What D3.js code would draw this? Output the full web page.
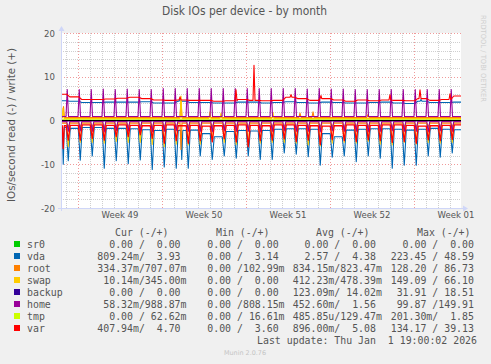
<!DOCTYPE html>
<html><head><meta charset="utf-8">
<script src="https://cdn.jsdelivr.net/npm/d3@7"></script>
<style>
html,body{margin:0;padding:0;background:#F0F0F0;}
svg{display:block;}
text{font-family:"DejaVu Sans",sans-serif;}
.mono{font-family:"DejaVu Sans Mono",monospace;font-size:9.9px;fill:#555;white-space:pre;}
</style></head><body>
<svg id="c" width="491" height="364"></svg>
<script>
// ---------------- DATA ----------------
const yTicks = [-20, -10, 0, 10, 20];
// 34 quiet-level values (one per gap between daily spikes), 33 daily spike values
const varWriteBase  = [6.0,5.4,4.8,4.8,4.9,5.1,5.3,5.0,4.7,4.6,4.7,4.6,4.6,4.4,4.5,4.8,4.6,4.5,4.6,5.3,5.0,4.6,5.0,4.7,4.4,4.7,4.5,4.7,4.6,4.5,5.0,4.6,4.8,5.6];
const varWriteEvents = [["2025-12-09T12:00Z",5.4],["2025-12-14T04:00Z",7.0],["2025-12-15T16:00Z",12.6],["2025-12-18T18:00Z",5.9],["2025-12-21T06:00Z",5.7],["2025-12-27T00:00Z",5.9],["2025-12-29T12:00Z",7.0],["2026-01-01T00:00Z",6.1]];
const varReadBase   = [-1.2,-1.1,-1.0,-1.0,-1.1,-1.0,-1.1,-1.2,-1.1,-1.0,-1.2,-1.1,-1.3,-1.2,-1.1,-1.0,-1.1,-1.2,-1.0,-1.0,-1.1,-1.2,-1.3,-1.2,-1.0,-1.1,-1.1,-1.0,-1.0,-1.1,-1.3,-1.2,-1.1,-1.0];
const varReadSpike  = [-4.5,-4.5,-4.1,-4.5,-3.7,-3.7,-3.3,-4.1,-5.2,-4.6,-5.2,-4.6,-4.9,-4.2,-4.9,-6.0,-4.6,-4.5,-4.2,-4.8,-4.5,-5.5,-4.4,-4.6,-4.8,-4.4,-4.6,-5.0,-4.8,-5.2,-4.4,-4.6,-4.3];
const varReadEvents = [["2025-11-29T18:30Z",-6.4]];

const vdaWriteBase  = [4.5,4.4,4.1,4.1,4.2,4.2,4.2,4.3,4.0,4.0,4.4,4.1,4.1,4.0,4.0,4.2,4.2,4.0,4.1,4.3,4.1,4.0,4.2,4.1,4.0,4.0,4.1,4.2,4.0,3.9,4.4,4.1,4.1,4.2];
const vdaWriteEvents = [["2025-12-09T12:00Z",5.0],["2025-12-29T14:00Z",4.8]];
const vdaReadBase   = [-1.6,-1.8,-1.6,-1.6,-1.8,-1.8,-1.9,-2.1,-2.3,-2.0,-2.3,-2.2,-3.0,-3.7,-2.5,-2.3,-2.4,-2.3,-2.0,-1.9,-1.9,-2.0,-3.0,-3.7,-2.2,-2.0,-1.9,-1.9,-2.0,-2.2,-2.0,-1.8,-2.0,-2.1];
const vdaReadSpike  = [-9.2,-9.1,-8.1,-10.9,-9.2,-9.9,-9.0,-11.2,-10.6,-10.9,-10.9,-8.1,-8.9,-8.1,-8.6,-8.1,-8.9,-8.9,-7.4,-7.7,-8.3,-10.2,-8.4,-8.1,-9.4,-8.1,-8.6,-10.9,-10.2,-10.2,-8.1,-8.4,-7.4];
const vdaReadEvents = [["2025-11-29T18:30Z",-10.0],["2025-12-09T15:30Z",-8.9]];

const homeWriteBase = [0.9,0.9,0.9,0.9,0.9,0.9,0.9,0.9,0.9,0.9,0.9,0.9,0.9,0.9,0.9,0.9,0.9,0.9,0.9,0.9,0.9,0.9,0.9,0.9,0.9,0.9,0.9,0.9,0.9,0.9,0.9,0.9,0.9,0.9];
const homeWriteSpike = [7.1,7.1,7.1,7.2,7.1,7.2,7.1,7.1,7.3,7.3,7.3,7.3,7.3,7.3,7.3,7.3,7.3,7.3,7.3,7.3,7.2,7.3,7.2,7.2,7.1,7.1,7.1,7.1,7.1,7.1,7.1,7.1,7.1];
const homeReadBase  = [-0.25,-0.25,-0.25,-0.25,-0.25,-0.25,-0.25,-0.25,-0.25,-0.25,-0.25,-0.25,-0.25,-0.25,-0.25,-0.25,-0.25,-0.25,-0.25,-0.25,-0.25,-0.25,-0.25,-0.25,-0.25,-0.25,-0.25,-0.25,-0.25,-0.25,-0.25,-0.25,-0.25,-0.25];
const homeReadSpike = [-2.5,-2.4,-2.5,-2.6,-2.4,-2.5,-2.5,-2.6,-2.5,-2.4,-2.5,-2.5,-2.6,-2.4,-2.5,-2.5,-2.6,-2.5,-2.4,-2.5,-2.5,-2.6,-2.4,-2.5,-2.5,-2.6,-2.5,-2.4,-2.5,-2.5,-2.6,-2.4,-2.5];

const swapWriteBase = [0.45,0.45,0.45,0.45,0.45,0.45,0.45,0.45,0.45,0.45,0.45,0.45,0.45,0.45,0.45,0.45,0.45,0.45,0.45,0.45,0.45,0.45,0.45,0.45,0.45,0.45,0.45,0.45,0.45,0.45,0.45,0.45,0.45,0.45];
const swapWriteEvents = [["2025-11-29T18:00Z",2.8],["2025-12-09T14:00Z",5.6],["2025-12-12T00:00Z",2.0],["2025-12-12T22:00Z",1.7],["2025-12-17T06:00Z",1.8]];
const swapReadBase  = [-0.3,-0.3,-0.3,-0.3,-0.3,-0.3,-0.3,-0.3,-0.3,-0.3,-0.3,-0.3,-0.3,-0.3,-0.3,-0.3,-0.3,-0.3,-0.3,-0.3,-0.3,-0.3,-0.3,-0.3,-0.3,-0.3,-0.3,-0.3,-0.3,-0.3,-0.3,-0.3,-0.3,-0.3];
const swapReadSpike = [-6.0,-5.0,-5.0,-5.2,-4.8,-5.0,-5.0,-5.5,-6.0,-5.4,-5.6,-5.4,-4.8,-5.0,-5.5,-5.8,-5.2,-5.0,-5.0,-5.2,-5.6,-5.8,-5.2,-5.0,-5.2,-4.8,-5.4,-5.6,-5.0,-5.4,-5.0,-5.2,-5.0];

const rootWriteBase = [0.7,0.7,0.7,0.7,0.7,0.7,0.7,0.7,0.7,0.7,0.7,0.7,0.7,0.7,0.7,0.7,0.7,0.7,0.7,0.7,0.7,0.7,0.7,0.7,0.7,0.7,0.7,0.7,0.7,0.7,0.7,0.7,0.7,0.7];
const rootWriteEvents = [["2025-11-29T19:00Z",3.2],["2025-12-09T14:00Z",4.4],["2025-12-19T12:00Z",1.7],["2025-12-20T14:00Z",2.0],["2025-12-25T04:00Z",1.4]];
const rootReadBase  = [-0.6,-0.6,-0.6,-0.6,-0.6,-0.6,-0.6,-0.6,-0.6,-0.6,-0.6,-0.6,-0.6,-0.6,-0.6,-0.6,-0.6,-0.6,-0.6,-0.6,-0.6,-0.6,-0.6,-0.6,-0.6,-0.6,-0.6,-0.6,-0.6,-0.6,-0.6,-0.6,-0.6,-0.6];
const rootReadSpike = [-1.5,-1.5,-1.4,-1.6,-1.5,-1.5,-1.4,-1.6,-1.5,-1.5,-1.4,-1.6,-1.5,-1.5,-1.4,-1.6,-1.5,-1.5,-1.4,-1.6,-1.5,-1.5,-1.4,-1.6,-1.5,-1.5,-1.4,-1.6,-1.5,-1.5,-1.4,-1.6,-1.5];
const rootReadEvents = [["2025-12-09T14:00Z",-6.6]];

const backupWriteBase = [0.02,0.02,0.02,0.02,0.02,0.02,0.02,0.02,0.02,0.02,0.02,0.02,0.02,0.02,0.02,0.02,0.02,0.02,0.02,0.02,0.02,0.02,0.02,0.02,0.02,0.02,0.02,0.02,0.02,0.02,0.02,0.02,0.02,0.02];
const backupReadBase  = [-0.12,-0.12,-0.12,-0.12,-0.12,-0.12,-0.12,-0.12,-0.12,-0.12,-0.12,-0.12,-0.12,-0.12,-0.12,-0.12,-0.12,-0.12,-0.12,-0.12,-0.12,-0.12,-0.12,-0.12,-0.12,-0.12,-0.12,-0.12,-0.12,-0.12,-0.12,-0.12,-0.12,-0.12];
const tmpWriteBase = [0.15,0.15,0.15,0.15,0.15,0.15,0.15,0.15,0.15,0.15,0.15,0.15,0.15,0.15,0.15,0.15,0.15,0.15,0.15,0.15,0.15,0.15,0.15,0.15,0.15,0.15,0.15,0.15,0.15,0.15,0.15,0.15,0.15,0.15];
const tmpReadBase  = [0,0,0,0,0,0,0,0,0,0,0,0,0,0,0,0,0,0,0,0,0,0,0,0,0,0,0,0,0,0,0,0,0,0];
const sr0Base      = [0,0,0,0,0,0,0,0,0,0,0,0,0,0,0,0,0,0,0,0,0,0,0,0,0,0,0,0,0,0,0,0,0,0];

// legend
const devices = ["sr0","vda","root","swap","backup","home","tmp","var"];
const colors  = ["#00CC00","#0066B3","#FF8000","#FFCC00","#330099","#990099","#CCFF00","#FF0000"];
const curVals = ["  0.00 /  0.00 ","809.24m/  3.93 ","334.37m/707.07m"," 10.14m/345.00m","  0.00 /  0.00 "," 58.32m/988.87m","  0.00 / 62.62m","407.94m/  4.70 "];
const minVals = ["  0.00 /  0.00 ","  0.00 /  3.14 ","  0.00 /102.99m","  0.00 /  0.00 ","  0.00 /  0.00 ","  0.00 /808.15m","  0.00 / 16.61m","  0.00 /  3.60 "];
const avgVals = ["  0.00 /  0.00 ","  2.57 /  4.38 ","834.15m/823.47m","412.23m/478.39m","123.09m/ 14.02m","452.60m/  1.56 ","485.85u/129.47m","896.00m/  5.08 "];
const maxVals = ["  0.00 /  0.00 ","223.45 / 48.59 ","128.20 / 86.73 ","149.09 / 66.10 "," 31.91 / 18.51 "," 99.87 /149.91 ","201.30m/  1.85 ","134.17 / 39.13 "];
const headers = ["Cur (-/+)","Min (-/+)","Avg (-/+)","Max (-/+)"];

// ---------------- CHART ----------------
const H = 3600e3;
const START = new Date(Date.UTC(2025,10,29,14));
const END   = new Date(Date.UTC(2026,0,1,22));
const days = d3.utcDay.range(new Date(Date.UTC(2025,10,30)), new Date(Date.UTC(2026,0,2)));
const L = 61, R = 461, T = 33, B = 208;
const x = d3.scaleUtc().domain([START, END]).range([L, R]);
const y = d3.scaleLinear().domain([-20, 20]).range([B, T]);

function build(base, spike, hour, half, events) {
  const sTimes = days.map(d => +d + hour*H);
  const pts = [[+START, base[0]]];
  sTimes.forEach((ts,k) => {
    if (spike && spike[k] != null) pts.push([ts-half*H, base[k]],[ts, spike[k]],[ts+half*H, base[k+1]]);
    else pts.push([ts-3*H, base[k]],[ts+3*H, base[k+1]]);
  });
  pts.push([+END, base[base.length-1]]);
  (events||[]).forEach(([s, v]) => {
    const t = +new Date(s);
    const b = base[d3.bisectRight(sTimes, t)];
    pts.push([t-2*H, b],[t, v],[t+2*H, b]);
  });
  pts.sort((a,b)=>a[0]-b[0]);
  return pts;
}

const series = [
  {c:colors[0], p:build(sr0Base,null,4.5)},
  {c:colors[0], p:build(sr0Base,null,4.5)},
  {c:colors[1], p:build(vdaReadBase,vdaReadSpike,4.5,4,vdaReadEvents)},
  {c:colors[1], p:build(vdaWriteBase,null,4.5,3,vdaWriteEvents)},
  {c:colors[2], p:build(rootReadBase,rootReadSpike,4.5,3,rootReadEvents)},
  {c:colors[2], p:build(rootWriteBase,null,4.5,3,rootWriteEvents)},
  {c:colors[3], p:build(swapReadBase,swapReadSpike,4.5,3.5)},
  {c:colors[3], p:build(swapWriteBase,null,4.5,3,swapWriteEvents)},
  {c:colors[4], p:build(backupReadBase,null,4.5)},
  {c:colors[4], p:build(backupWriteBase,null,4.5)},
  {c:colors[5], p:build(homeReadBase,homeReadSpike,4.5,3)},
  {c:colors[5], p:build(homeWriteBase,homeWriteSpike,2.5,2.5)},
  {c:colors[6], p:build(tmpReadBase,null,4.5)},
  {c:colors[6], p:build(tmpWriteBase,null,4.5)},
  {c:colors[7], p:build(varReadBase,varReadSpike,4.5,4,varReadEvents), w:1.3},
  {c:colors[7], p:build(varWriteBase,null,4.5,3,varWriteEvents)}
];

const svg = d3.select("#c");
svg.append("rect").attr("width",491).attr("height",364).attr("fill","#F0F0F0");
svg.append("rect").attr("x",L).attr("y",T).attr("width",R-L).attr("height",B-T).attr("fill","#fff");

const px = v => Math.round(v) + 0.5;
const grid = svg.append("g");
d3.range(-18, 20, 2).filter(v => v % 10 !== 0).forEach(v => {
  grid.append("line").attr("x1",L).attr("x2",R).attr("y1",px(y(v))).attr("y2",px(y(v)))
    .attr("stroke","#cfcfcf").attr("stroke-dasharray","1,1");
});
d3.utcDay.range(START, END).filter(d => d.getUTCDay() !== 1).forEach(d => {
  grid.append("line").attr("x1",px(x(d))).attr("x2",px(x(d))).attr("y1",T).attr("y2",B)
    .attr("stroke","#cfcfcf").attr("stroke-dasharray","1,1");
});
yTicks.forEach(v => {
  grid.append("line").attr("x1",L).attr("x2",R).attr("y1",px(y(v))).attr("y2",px(y(v)))
    .attr("stroke","#f09a9a").attr("stroke-dasharray","1,2");
});
d3.utcMonday.range(START, END).forEach(d => {
  grid.append("line").attr("x1",px(x(d))).attr("x2",px(x(d))).attr("y1",T).attr("y2",B+2)
    .attr("stroke","#f09a9a").attr("stroke-dasharray","1,2");
});

svg.append("clipPath").attr("id","clip").append("rect").attr("x",L).attr("y",T-2).attr("width",R-L).attr("height",B-T+2);
const line = d3.line().x(d => x(d[0])).y(d => y(d[1]));
const lg = svg.append("g").attr("clip-path","url(#clip)");
series.forEach(s => {
  lg.append("path").attr("d", line(s.p)).attr("fill","none").attr("stroke", s.c)
    .attr("stroke-width", s.w || 1.1).attr("stroke-linejoin","round");
});
lg.append("line").attr("x1",L).attr("x2",R).attr("y1",y(0)).attr("y2",y(0)).attr("stroke","#000").attr("stroke-width",1);

// axes
const ac = "#CFD6F8";
svg.append("line").attr("x1",L-3).attr("x2",R+3).attr("y1",B+0.5).attr("y2",B+0.5).attr("stroke",ac);
svg.append("path").attr("d",`M${R+2},${B-2.5}L${R+7},${B+0.5}L${R+2},${B+3.5}Z`).attr("fill",ac);
svg.append("line").attr("x1",L+0.5).attr("x2",L+0.5).attr("y1",B+3).attr("y2",T-3).attr("stroke",ac);
svg.append("path").attr("d",`M${L-2.5},${T-2}L${L+0.5},${T-7}L${L+3.5},${T-2}Z`).attr("fill",ac);

// tick labels
const tf = "#555";
yTicks.forEach(v => {
  const t = svg.append("text").attr("x",55).attr("y",y(v)+3.5).attr("text-anchor","end")
    .attr("font-size",9.5).attr("fill",tf).text(v);
  const w = t.node().getComputedTextLength();
  t.attr("textLength", w*0.9).attr("lengthAdjust","spacingAndGlyphs");
});
const fmtWeek = d3.utcFormat("Week %V");
d3.utcMonday.range(d3.utcMonday.floor(START), END).forEach(d => {
  const mid = d3.utcHour.offset(d, 84);
  if (mid < START) return;
  svg.append("text").attr("x",x(mid)).attr("y",218).attr("text-anchor","middle")
    .attr("font-size",9.5).attr("fill",tf).attr("textLength",37).attr("lengthAdjust","spacingAndGlyphs")
    .text(fmtWeek(d));
});

// title, y label, watermark
svg.append("text").attr("x",244.5).attr("y",15).attr("text-anchor","middle").attr("font-size",12)
  .attr("fill","#555").attr("textLength",165).attr("lengthAdjust","spacingAndGlyphs").text("Disk IOs per device - by month");
svg.append("text").attr("transform","translate(15,125) rotate(-90)").attr("text-anchor","middle")
  .attr("font-size",10).attr("fill","#555").attr("textLength",154).attr("lengthAdjust","spacingAndGlyphs")
  .text("IOs/second read (-) / write (+)");
svg.append("text").attr("transform","translate(480.5,15) rotate(90)").attr("text-anchor","start")
  .attr("font-size",7).attr("fill","#cfcfcf").attr("textLength",87).attr("lengthAdjust","spacingAndGlyphs")
  .text("RRDTOOL / TOBI OETIKER");

// legend
const colX = [97.3, 195.4, 292.7, 390.7];
const headX = [115, 216, 316, 417];
headers.forEach((h,i) => svg.append("text").attr("class","mono").attr("x",headX[i]).attr("y",236.3).text(h));
devices.forEach((d,i) => {
  const cy = 244 + 12*i;
  svg.append("rect").attr("x",14).attr("y",cy-3).attr("width",6).attr("height",6).attr("fill",colors[i]);
  svg.append("text").attr("class","mono").attr("x",27).attr("y",cy+3.6).text(d);
  [curVals, minVals, avgVals, maxVals].forEach((arr,j) => {
    svg.append("text").attr("class","mono").attr("x",colX[j]).attr("y",cy+3.6).text(arr[i]);
  });
});
svg.append("text").attr("class","mono").attr("x",477).attr("y",344.3).attr("text-anchor","end")
  .text("Last update: Thu Jan  1 19:00:02 2026");
svg.append("text").attr("x",245).attr("y",354.5).attr("text-anchor","middle").attr("font-size",6.5)
  .attr("fill","#c4c4c4").attr("textLength",42).attr("lengthAdjust","spacingAndGlyphs").text("Munin 2.0.76");
</script></body></html>
